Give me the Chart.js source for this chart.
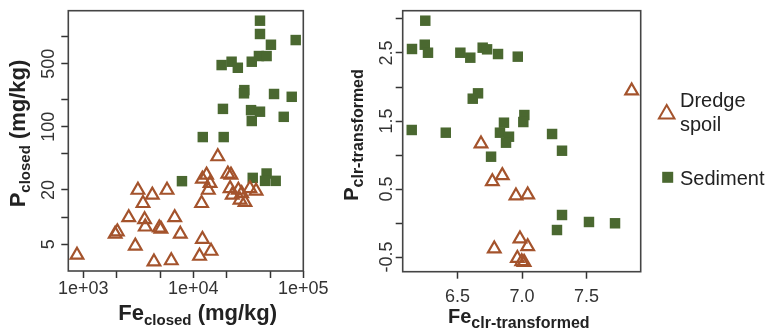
<!DOCTYPE html>
<html>
<head>
<meta charset="utf-8">
<script src="https://cdn.jsdelivr.net/npm/chart.js@4/dist/chart.umd.min.js"></script>
<style>
  html, body { margin: 0; padding: 0; background: #fff; }
  #wrap { position: relative; width: 774px; height: 331px; overflow: hidden; }
  canvas { position: absolute; top: 0; }
  #leftChart { left: 0; }
  #rightChart { left: 320px; }
</style>
</head>
<body>
<div id="wrap">
  <canvas id="leftChart" width="330" height="331"></canvas>
  <canvas id="rightChart" width="454" height="331"></canvas>
</div>
<script>
// left panel - closed data (mg/kg), log axes
const spoilFeClosed = [877, 3140, 4240, 5770, 3490, 2590, 3610, 3660, 4910, 5080, 6780, 2040, 1950, 7620, 2970, 4390, 6310,
  16700, 13200, 12100, 14200, 13700, 11900, 20600, 22000, 21600, 22600, 25700, 27500, 26600, 29500, 32700, 37200, 11400, 12100, 14500];
const spoilPClosed = [3.8, 19.9, 17.6, 19.9, 14.2, 9.9, 9.4, 7.8, 7.6, 7.4, 9.9, 6.9, 6.5, 6.5, 4.8, 3.2, 3.3,
  46.8, 29.3, 26.4, 23.7, 19.9, 14.2, 30.1, 29.3, 20.8, 17.6, 19.9, 18.3, 15.5, 14.6, 20.8, 19.5, 3.7, 5.7, 4.2];
const sedimentFeClosed = [40400, 40400, 85300, 50800, 39500, 46400, 18100, 22300, 25400, 34000, 29100, 28900, 54200,
  78500, 18600, 33500, 40400, 34000, 66400, 12200, 18900, 7890, 34700, 46400, 44900, 56100];
const sedimentPClosed = [1497, 1067, 914, 811, 608, 608, 483, 526, 451, 526, 255, 235, 231,
  215, 158, 153, 147, 116, 129, 77, 77, 25, 27.2, 30.4, 25.2, 25.2];

const closedFeTicks = [1000, 2000, 5000, 10000, 20000, 50000, 100000];
const closedFeLabels = ['1e+03', '', '', '1e+04', '', '', '1e+05'];
const closedPTicks = [5, 10, 20, 50, 100, 200, 500, 1000];
const closedPLabels = ['5', '', '20', '', '100', '', '500', ''];

// right panel - clr-transformed
const spoilFeClr = [6.682, 6.770, 6.847, 6.953, 7.044, 6.984, 7.044, 6.785, 6.964, 6.998, 7.016, 7.850];
const spoilPClr = [1.165, 0.610, 0.699, 0.400, 0.415, -0.232, -0.346, -0.379, -0.518, -0.566, -0.576, 1.944];
const sedimentFeClr = [6.250, 6.147, 6.246, 6.271, 6.522, 6.599, 6.695, 6.729, 6.814, 6.967, 6.659, 6.618, 7.018, 7.010,
  6.860, 6.829, 6.899, 6.876, 6.760, 7.233, 7.310, 7.310, 7.271, 7.519, 7.721, 6.145, 6.409];
const sedimentPClr = [2.975, 2.559, 2.622, 2.504, 2.504, 2.431, 2.578, 2.554, 2.485, 2.446, 1.907, 1.828, 1.588, 1.485,
  1.475, 1.328, 1.269, 1.181, 0.975, 1.309, 1.063, 0.118, -0.103, 0.015, -0.004, 1.368, 1.328];

const clrFeTicks = [6.5, 7.0, 7.5];
const clrFeLabels = ['6.5', '7.0', '7.5'];
const clrPTicks = [-0.5, 0, 0.5, 1, 1.5, 2, 2.5, 3];
const clrPLabels = ['-0.5', '', '0.5', '', '1.5', '', '2.5', ''];

const spoilColor = '#a4532c';
const sedimentColor = '#4a6830';
const fontFamily = '"Liberation Sans", Arial, Helvetica, sans-serif';

function toPoints(xs, ys) {
  return xs.map((x, i) => ({ x: x, y: ys[i] }));
}

function drawSubTitle(ctx, parts, cx, cy, vertical) {
  ctx.save();
  ctx.translate(cx, cy);
  if (vertical) ctx.rotate(-Math.PI / 2);
  ctx.fillStyle = '#222';
  ctx.textBaseline = 'alphabetic';
  ctx.textAlign = 'left';
  let total = 0;
  parts.forEach(p => {
    ctx.font = 'bold ' + p.size + 'px ' + fontFamily;
    p.w = ctx.measureText(p.text).width;
    total += p.w;
  });
  let x = -total / 2;
  parts.forEach(p => {
    ctx.font = 'bold ' + p.size + 'px ' + fontFamily;
    ctx.fillText(p.text, x, p.dy);
    x += p.w;
  });
  ctx.restore();
}

const boxPlugin = {
  id: 'box',
  afterDraw(chart) {
    const a = chart.chartArea;
    const ctx = chart.ctx;
    ctx.save();
    ctx.strokeStyle = '#444';
    ctx.lineWidth = 1.6;
    ctx.strokeRect(a.left, a.top, a.right - a.left, a.bottom - a.top);
    ctx.restore();
  }
};

function spoilSet(data) {
  return {
    label: 'Dredge spoil',
    data: data,
    pointStyle: 'triangle',
    pointRadius: 7.3,
    borderWidth: 2.2,
    borderColor: spoilColor,
    backgroundColor: 'rgba(0,0,0,0)',
    clip: false
  };
}

function sedimentSet(data) {
  return {
    label: 'Sediment',
    data: data,
    pointStyle: 'rect',
    pointRadius: 7.4,
    borderWidth: 0,
    backgroundColor: sedimentColor,
    borderColor: sedimentColor,
    clip: false
  };
}

// vertical axes get their labels turned on their side
function axisOpts(type, min, max, ticks, labels, size, vertical, pad) {
  return {
    type: type,
    min: min,
    max: max,
    afterBuildTicks: s => { s.ticks = ticks.map(v => ({ value: v })); },
    afterFit: s => { if (vertical) s.width = size; else s.height = size; },
    border: { display: false },
    grid: { drawOnChartArea: false, drawTicks: true, tickLength: 7, tickColor: '#333', tickWidth: 1.5 },
    ticks: {
      autoSkip: false,
      minRotation: vertical ? 90 : 0,
      maxRotation: vertical ? 90 : 0,
      crossAlign: vertical ? 'center' : 'near',
      padding: pad,
      color: '#333',
      font: { family: fontFamily, size: 18 },
      callback: (v, i) => labels[i]
    }
  };
}

new Chart(document.getElementById('leftChart'), {
  type: 'scatter',
  data: {
    datasets: [spoilSet(toPoints(spoilFeClosed, spoilPClosed)), sedimentSet(toPoints(sedimentFeClosed, sedimentPClosed))]
  },
  options: {
    responsive: false,
    animation: false,
    devicePixelRatio: 1,
    events: [],
    layout: { padding: { left: 0, top: 10.7, right: 26.7, bottom: 0 } },
    plugins: { legend: { display: false }, tooltip: { enabled: false } },
    scales: {
      x: axisOpts('logarithmic', 731, 100000, closedFeTicks, closedFeLabels, 60, false, 0),
      y: axisOpts('logarithmic', 2.53, 1932, closedPTicks, closedPLabels, 68.3, true, -3)
    }
  },
  plugins: [boxPlugin, {
    id: 'titles',
    afterDraw(chart) {
      const ctx = chart.ctx;
      drawSubTitle(ctx, [
        { text: 'Fe', size: 22, dy: 0 },
        { text: 'closed', size: 15, dy: 5 },
        { text: ' (mg/kg)', size: 22, dy: 0 }
      ], 197.7, 320, false);
      drawSubTitle(ctx, [
        { text: 'P', size: 22, dy: 0 },
        { text: 'closed', size: 15, dy: 5 },
        { text: ' (mg/kg)', size: 22, dy: 0 }
      ], 25, 133.5, true);
    }
  }]
});

new Chart(document.getElementById('rightChart'), {
  type: 'scatter',
  data: {
    datasets: [spoilSet(toPoints(spoilFeClr, spoilPClr)), sedimentSet(toPoints(sedimentFeClr, sedimentPClr))]
  },
  options: {
    responsive: false,
    animation: false,
    devicePixelRatio: 1,
    events: [],
    layout: { padding: { left: 0, top: 10.7, right: 133.3, bottom: 0 } },
    plugins: { legend: { display: false }, tooltip: { enabled: false } },
    scales: {
      x: axisOpts('linear', 6.075, 7.92, clrFeTicks, clrFeLabels, 59.3, false, 8),
      y: axisOpts('linear', -0.716, 3.122, clrPTicks, clrPLabels, 82.7, true, -7)
    }
  },
  plugins: [boxPlugin, {
    id: 'titlesAndLegend',
    afterDraw(chart) {
      const ctx = chart.ctx;
      drawSubTitle(ctx, [
        { text: 'Fe', size: 20, dy: 0 },
        { text: 'clr-transformed', size: 16, dy: 5 }
      ], 198.8, 323.3, false);
      drawSubTitle(ctx, [
        { text: 'P', size: 20, dy: 0 },
        { text: 'clr-transformed', size: 16, dy: 5 }
      ], 38.3, 135, true);

      // legend
      ctx.save();
      const tx = 346.7, ty = 114, r = 9;
      ctx.strokeStyle = spoilColor;
      ctx.lineWidth = 2;
      ctx.beginPath();
      ctx.moveTo(tx, ty - r);
      ctx.lineTo(tx + r * 0.866, ty + r / 2);
      ctx.lineTo(tx - r * 0.866, ty + r / 2);
      ctx.closePath();
      ctx.stroke();
      ctx.fillStyle = sedimentColor;
      ctx.fillRect(347.7 - 5.5, 177.3 - 5.5, 11, 11);
      ctx.fillStyle = '#222';
      ctx.font = '20px ' + fontFamily;
      ctx.textAlign = 'left';
      ctx.textBaseline = 'alphabetic';
      ctx.fillText('Dredge', 360, 106.7);
      ctx.fillText('spoil', 360, 130.5);
      ctx.fillText('Sediment', 360, 185);
      ctx.restore();
    }
  }]
});
</script>
</body>
</html>
